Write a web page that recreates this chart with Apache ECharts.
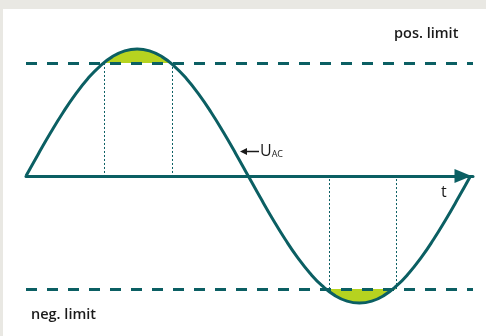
<!DOCTYPE html>
<html>
<head>
<meta charset="utf-8">
<script src="https://cdn.jsdelivr.net/npm/echarts@6/dist/echarts.min.js"></script>
<style>
  html, body { margin: 0; padding: 0; }
  .frame { position: relative; width: 486px; height: 336px; background: #e9e8e3; overflow: hidden; }
  #chart { position: absolute; left: 3px; top: 9px; width: 483px; height: 327px; background: #fff; }
</style>
</head>
<body>
<div class="frame"><div id="chart"></div></div>
<script>
// phase in degrees and normalised voltage
const phaseDeg = [0, 10, 20, 30, 40, 50, 60, 70, 80, 90, 100, 110, 120, 130, 140, 150, 160, 170, 180,
  190, 200, 210, 220, 230, 240, 250, 260, 270, 280, 290, 300, 310, 320, 330, 340, 350, 360]
const voltage = [0, 0.174, 0.342, 0.5, 0.643, 0.766, 0.866, 0.94, 0.985, 1, 0.985, 0.94, 0.866, 0.766, 0.643, 0.5, 0.342, 0.174, 0,
  -0.174, -0.342, -0.5, -0.643, -0.766, -0.866, -0.94, -0.985, -1, -0.985, -0.94, -0.866, -0.766, -0.643, -0.5, -0.342, -0.174, 0]

// limits
const posLimit = 0.89
const negLimit = -0.89

// parts of the curve beyond the limits (filled)
const posCapDeg = [63.5, 70, 80, 90, 100, 110, 118.1]
const posCapVal = [0.89, 0.94, 0.985, 1, 0.985, 0.94, 0.89]
const negCapDeg = [245.2, 250, 260, 270, 280, 290, 299.7]
const negCapVal = [-0.89, -0.94, -0.985, -1, -0.985, -0.94, -0.89]

// where the curve meets the limits (dotted drop lines)
const crossDeg = [63.5, 118.1, 245.2, 299.7]
const crossVal = [posLimit, posLimit, negLimit, negLimit]

const teal = '#0b5f63'
const lime = '#b6d320'

const zip = (xs, ys) => xs.map((x, i) => [x, ys[i]])

const chart = echarts.init(document.getElementById('chart'))

const dropLines = crossDeg.map((x, i) => [
  { coord: [x, crossVal[i]] },
  { coord: [x, 0] },
])

chart.setOption({
  animation: false,
  grid: { left: 23, right: 13, top: 8.25, bottom: 1.25 },
  xAxis: {
    type: 'value',
    min: 0,
    max: 362,
    axisLine: {
      show: true,
      onZero: true,
      symbol: ['none', 'triangle'],
      symbolSize: [14, 17],
      symbolOffset: [0, -10],
      lineStyle: { color: teal, width: 3 },
    },
    axisTick: { show: false },
    axisLabel: { show: false },
    splitLine: { show: false },
  },
  yAxis: {
    type: 'value',
    min: -1.25,
    max: 1.25,
    axisLine: { show: false },
    axisTick: { show: false },
    axisLabel: { show: false },
    splitLine: { show: false },
  },
  series: [
    {
      type: 'line',
      data: zip(posCapDeg, posCapVal),
      smooth: true,
      symbol: 'none',
      lineStyle: { width: 0 },
      areaStyle: { color: lime, opacity: 1, origin: posLimit },
      z: 1,
      silent: true,
    },
    {
      type: 'line',
      data: zip(negCapDeg, negCapVal),
      smooth: true,
      symbol: 'none',
      lineStyle: { width: 0 },
      areaStyle: { color: lime, opacity: 1, origin: negLimit },
      z: 1,
      silent: true,
    },
    {
      type: 'line',
      data: zip(phaseDeg, voltage),
      smooth: true,
      symbol: 'none',
      lineStyle: { color: teal, width: 3 },
      z: 3,
      markLine: {
        silent: true,
        symbol: 'none',
        label: { show: false },
        data: [
          { yAxis: posLimit, lineStyle: { color: teal, width: 3, type: [11, 10] } },
          { yAxis: negLimit, lineStyle: { color: teal, width: 3, type: [11, 10] } },
          ...dropLines.map(d => [
            { ...d[0], lineStyle: { color: teal, width: 1, type: [2, 2] } },
            d[1],
          ]),
        ],
      },
    },
  ],
  graphic: [
    {
      type: 'text', left: 391, top: 17,
      style: { text: 'pos. limit', font: '600 14.5px "Open Sans"', fill: '#1a1a1a' },
    },
    {
      type: 'text', left: 28, top: 298,
      style: { text: 'neg. limit', font: '600 14.5px "Open Sans"', fill: '#1a1a1a' },
    },
    {
      type: 'text', left: 438, top: 175,
      style: { text: 't', font: '500 16px "Open Sans"', fill: '#1a1a1a' },
    },
    {
      type: 'text', left: 257, top: 134,
      style: {
        text: '{u|U}{s|AC}',
        rich: {
          u: { font: '500 16px "Open Sans"', fill: '#1a1a1a', verticalAlign: 'bottom' },
          s: { font: '500 9px "Open Sans"', fill: '#1a1a1a', verticalAlign: 'bottom' },
        },
      },
    },
    {
      type: 'line',
      shape: { x1: 241, y1: 142.5, x2: 256, y2: 142.5 },
      style: { stroke: '#1a1a1a', lineWidth: 1.5 },
    },
    {
      type: 'polygon',
      shape: { points: [[237, 142.5], [244, 139], [244, 146]] },
      style: { fill: '#1a1a1a' },
    },
  ],
})
</script>
</body>
</html>
